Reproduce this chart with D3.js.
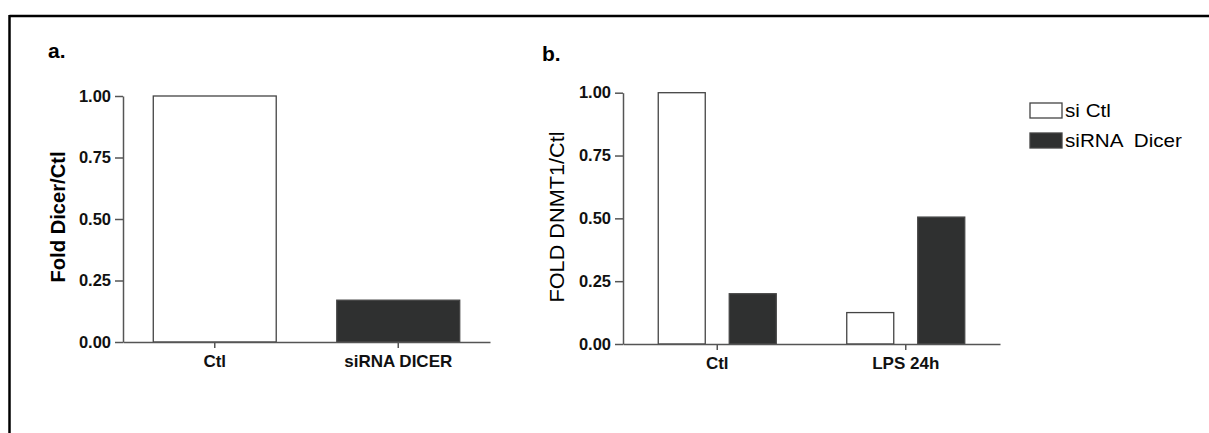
<!DOCTYPE html>
<html>
<head>
<meta charset="UTF-8">
<script src="https://cdn.jsdelivr.net/npm/d3@7/dist/d3.min.js"></script>
<style>
  body { margin: 0; background: #fff; }
  svg { display: block; font-family: Arial, "Liberation Sans", sans-serif; }
  .axis path, .axis line { stroke: #555; stroke-width: 1.5px; }
  .axis text { font-family: Arial, "Liberation Sans", sans-serif; font-weight: bold; fill: #111; }
</style>
</head>
<body>
<svg id="chart" width="1209" height="433"></svg>
<script>
// panel a
var catA = ["Ctl", "siRNA DICER"];
var valA = [1.00, 0.17];
// panel b
var catB = ["Ctl", "LPS 24h"];
var seriesB = ["si Ctl", "siRNA  Dicer"];
var siCtl = [1.00, 0.125];
var siDicer = [0.20, 0.505];
var yTicks = [0, 0.25, 0.5, 0.75, 1.0];

var fillFor = {"si Ctl": "#fff", "siRNA  Dicer": "#2f3030"};
var fillA = ["#fff", "#2f3030"];

var svg = d3.select("#chart");

// outer frame (top + left)
svg.append("line").attr("x1", 9.5).attr("x2", 1209).attr("y1", 16).attr("y2", 16)
  .attr("stroke", "#000").attr("stroke-width", 2.5);
svg.append("line").attr("x1", 9.5).attr("x2", 9.5).attr("y1", 15).attr("y2", 433)
  .attr("stroke", "#000").attr("stroke-width", 2.5);

// ---------- panel a ----------
var xa = d3.scaleBand().domain(catA).range([123, 490]);
var ya = d3.scaleLinear().domain([0, 1]).range([342, 96]);
var wa = xa.bandwidth() * 0.67;

svg.append("g").attr("class", "axis").attr("transform", "translate(123,0)")
  .call(d3.axisLeft(ya).tickValues(yTicks).tickFormat(d3.format(".2f")).tickSize(8).tickSizeOuter(0).tickPadding(4))
  .selectAll("text").style("font-size", "16.5px");
svg.selectAll(".bara").data(valA).enter().append("rect")
  .attr("class", "bara")
  .attr("x", function(d, i){ return xa(catA[i]) + (xa.bandwidth() - wa) / 2; })
  .attr("y", function(d){ return ya(d); })
  .attr("width", wa)
  .attr("height", function(d){ return ya(0) - ya(d); })
  .attr("fill", function(d, i){ return fillA[i]; })
  .attr("stroke", "#444").attr("stroke-width", 1.3);
svg.append("g").attr("class", "axis").attr("transform", "translate(0,342)")
  .call(d3.axisBottom(xa).tickSize(6).tickSizeOuter(0).tickPadding(7))
  .selectAll("text").style("font-size", "17px");

svg.append("text").attr("x", 48).attr("y", 58).text("a.")
  .style("font-weight", "bold").style("font-size", "21px");
svg.append("text")
  .attr("transform", "translate(65,217) rotate(-90)")
  .attr("text-anchor", "middle")
  .attr("textLength", 131).attr("lengthAdjust", "spacingAndGlyphs")
  .style("font-weight", "bold").style("font-size", "20px")
  .text("Fold Dicer/Ctl");

// ---------- panel b ----------
var xb = d3.scaleBand().domain(catB).range([623, 1000]);
var xs = d3.scaleBand().domain(seriesB).range([0, 118]).paddingInner(0.338);
var yb = d3.scaleLinear().domain([0, 1]).range([344, 92.7]);

var rowsB = catB.map(function(c, i){
  return {cat: c, vals: [{s: seriesB[0], v: siCtl[i]}, {s: seriesB[1], v: siDicer[i]}]};
});

svg.append("g").attr("class", "axis").attr("transform", "translate(623,0)")
  .call(d3.axisLeft(yb).tickValues(yTicks).tickFormat(d3.format(".2f")).tickSize(8).tickSizeOuter(0).tickPadding(4))
  .selectAll("text").style("font-size", "16.5px");

var grp = svg.selectAll(".grp").data(rowsB).enter().append("g")
  .attr("class", "grp")
  .attr("transform", function(d){ return "translate(" + (xb(d.cat) + xb.bandwidth() / 2 - 59) + ",0)"; });
grp.selectAll("rect").data(function(d){ return d.vals; }).enter().append("rect")
  .attr("x", function(d){ return xs(d.s); })
  .attr("y", function(d){ return yb(d.v); })
  .attr("width", xs.bandwidth())
  .attr("height", function(d){ return yb(0) - yb(d.v); })
  .attr("fill", function(d){ return fillFor[d.s]; })
  .attr("stroke", "#444").attr("stroke-width", 1.3);

svg.append("g").attr("class", "axis").attr("transform", "translate(0,344)")
  .call(d3.axisBottom(xb).tickSize(6).tickSizeOuter(0).tickPadding(7))
  .selectAll("text").style("font-size", "17px");

svg.append("text").attr("x", 542).attr("y", 61).text("b.")
  .style("font-weight", "bold").style("font-size", "21px");
svg.append("text")
  .attr("transform", "translate(564,217) rotate(-90)")
  .attr("text-anchor", "middle")
  .attr("textLength", 171).attr("lengthAdjust", "spacingAndGlyphs")
  .style("font-size", "20px")
  .text("FOLD  DNMT1/Ctl");

// legend
var leg = svg.selectAll(".leg").data(seriesB).enter().append("g")
  .attr("class", "leg")
  .attr("transform", function(d, i){ return "translate(1030," + (103 + i * 30) + ")"; });
leg.append("rect").attr("width", 32).attr("height", 15)
  .attr("fill", function(d){ return fillFor[d]; })
  .attr("stroke", "#444").attr("stroke-width", 1.3);
leg.append("text").attr("transform", "translate(35,14) scale(1.18,1)")
  .style("font-size", "17.5px").style("white-space", "pre").attr("xml:space", "preserve")
  .text(function(d){ return d; });
</script>
</body>
</html>
